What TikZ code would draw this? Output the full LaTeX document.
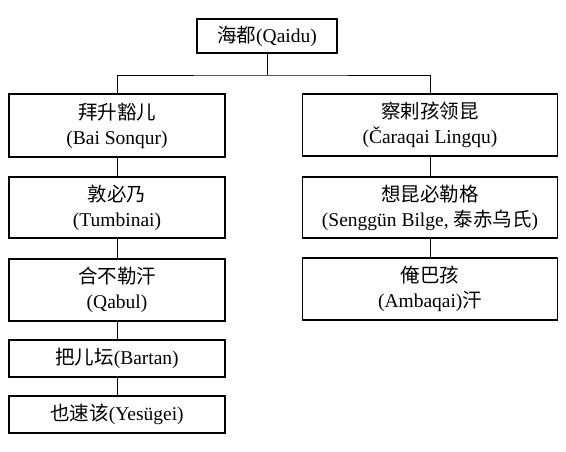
\documentclass[tikz,border=0pt]{standalone}
\usepackage{fontspec}
\setmainfont{Liberation Serif}
\newfontfamily\cjk{Noto Sans CJK SC}
\newcommand\zh[1]{{\cjk #1}}
\begin{document}
\begin{tikzpicture}[x=1pt,y=-1pt,
  person/.style={draw,line width=1.6pt,align=center,inner sep=0pt,
    font=\fontsize{19.5}{25}\selectfont},
  link/.style={line width=0.8pt}]
\useasboundingbox (0,0) rectangle (566,452);
\node[person,minimum width=140,minimum height=34] (top) at (267,36) {\zh{海都}(Qaidu)};
\node[person,minimum width=216,minimum height=63] (l1) at (117,125.5) {\zh{拜升豁儿}\\(Bai Sonqur)};
\node[person,minimum width=216,minimum height=61] (l2) at (117,207.5) {\zh{敦必乃}\\(Tumbinai)};
\node[person,minimum width=216,minimum height=62] (l3) at (117,290) {\zh{合不勒汗}\\(Qabul)};
\node[person,minimum width=216,minimum height=37] (l4) at (117,358.5) {\zh{把儿坛}(Bartan)};
\node[person,minimum width=216,minimum height=37] (l5) at (117,414.5) {\zh{也速该}(Yesügei)};
\node[person,minimum width=255,minimum height=62] (r1) at (430,125) {\zh{察剌孩领昆}\\(Čaraqai Lingqu)};
\node[person,minimum width=255,minimum height=61] (r2) at (430,207.5) {\zh{想昆必勒格}\\(Senggün Bilge, \zh{泰赤乌氏})};
\node[person,minimum width=255,minimum height=62] (r3) at (430,289) {\zh{俺巴孩}\\(Ambaqai)\zh{汗}};
\coordinate (bar) at (267,75);
\draw[link] (top.south) -- (bar);
\draw[link] (l1.north) |- (bar) -| (r1.north);
\draw[link] (l1) -- (l2);
\draw[link] (l2) -- (l3);
\draw[link] (l3) -- (l4);
\draw[link] (l4) -- (l5);
\draw[link] (r1) -- (r2);
\draw[link] (r2) -- (r3);
\end{tikzpicture}
\end{document}
